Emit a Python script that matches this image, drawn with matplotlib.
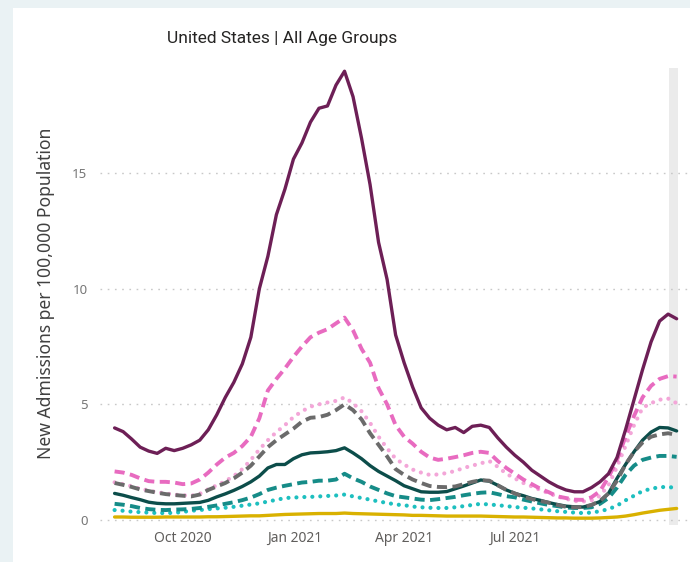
import pandas as pd
import matplotlib

matplotlib.use("Agg")
import matplotlib.pyplot as plt
from matplotlib.patches import Rectangle

# Dates (weekly) and values
dates = pd.date_range("2020-08-06", periods=67, freq="7D")

violet = [3.98, 3.82, 3.5, 3.15, 2.98, 2.88, 3.1, 3.0, 3.1, 3.25,
          3.45, 3.9, 4.55, 5.3, 5.95, 6.75, 7.9, 10.0, 11.4, 13.2,
          14.3, 15.6, 16.3, 17.2, 17.8, 17.9, 18.8, 19.4, 18.3, 16.5,
          14.5, 12.0, 10.4, 8.0, 6.8, 5.75, 4.85, 4.4, 4.1, 3.9,
          4.0, 3.78, 4.05, 4.1, 4.0, 3.55, 3.15, 2.8, 2.5, 2.15,
          1.9, 1.65, 1.45, 1.3, 1.22, 1.22, 1.4, 1.65, 2.0, 2.7,
          3.9, 5.2, 6.5, 7.7, 8.6, 8.9, 8.7]

rose_tirets = [2.1, 2.05, 1.95, 1.8, 1.68, 1.65, 1.65, 1.62, 1.55, 1.58,
               1.75, 2.05, 2.4, 2.7, 2.9, 3.2, 3.6, 4.4, 5.6, 6.1,
               6.55, 7.05, 7.5, 7.9, 8.1, 8.25, 8.5, 8.75, 8.2, 7.4,
               6.8, 5.7, 5.0, 4.1, 3.6, 3.3, 2.95, 2.7, 2.6, 2.65,
               2.72, 2.8, 2.9, 2.95, 2.9, 2.55, 2.25, 2.0, 1.75, 1.55,
               1.35, 1.2, 1.02, 0.95, 0.88, 0.87, 0.98, 1.25, 1.85, 2.6,
               3.6, 4.5, 5.3, 5.8, 6.1, 6.22, 6.2]

rose_points = [1.63, 1.55, 1.46, 1.35, 1.28, 1.2, 1.15, 1.1, 1.07, 1.05,
               1.13, 1.33, 1.5, 1.68, 1.9, 2.2, 2.6, 3.05, 3.45, 3.8,
               4.1, 4.45, 4.7, 4.9, 5.0, 5.08, 5.15, 5.3, 5.05, 4.7,
               4.2, 3.6, 3.1, 2.65, 2.4, 2.18, 2.05, 1.95, 1.97, 2.03,
               2.12, 2.25, 2.35, 2.45, 2.55, 2.3, 2.0, 1.8, 1.6, 1.45,
               1.3, 1.15, 1.02, 0.92, 0.82, 0.8, 0.84, 1.05, 1.5, 2.3,
               3.2, 4.1, 4.85, 5.05, 5.2, 5.25, 5.05]

gris_tirets = [1.6, 1.52, 1.43, 1.32, 1.25, 1.18, 1.12, 1.08, 1.05, 1.02,
               1.1, 1.3, 1.45, 1.6, 1.8, 2.05, 2.35, 2.75, 3.15, 3.45,
               3.7, 3.95, 4.25, 4.42, 4.45, 4.55, 4.75, 5.0, 4.75, 4.35,
               3.75, 3.25, 2.75, 2.2, 1.95, 1.75, 1.6, 1.47, 1.43, 1.42,
               1.45, 1.55, 1.65, 1.72, 1.7, 1.5, 1.3, 1.15, 1.0, 0.9,
               0.82, 0.75, 0.65, 0.57, 0.55, 0.56, 0.65, 0.82, 1.15, 1.7,
               2.4, 2.95, 3.35, 3.6, 3.7, 3.75, 3.68]

vert_fonce = [1.15, 1.07, 0.97, 0.88, 0.77, 0.72, 0.7, 0.7, 0.72, 0.74,
              0.76, 0.85, 1.0, 1.13, 1.28, 1.45, 1.65, 1.9, 2.25, 2.4,
              2.4, 2.65, 2.82, 2.9, 2.92, 2.95, 3.0, 3.12, 2.9, 2.65,
              2.35, 2.1, 1.9, 1.7, 1.48, 1.35, 1.22, 1.2, 1.2, 1.23,
              1.35, 1.47, 1.6, 1.73, 1.68, 1.5, 1.3, 1.15, 1.05, 0.93,
              0.85, 0.75, 0.67, 0.6, 0.57, 0.56, 0.65, 0.8, 1.15, 1.8,
              2.4, 2.95, 3.45, 3.8, 4.0, 3.98, 3.85]

sarcelle_tirets = [0.7, 0.66, 0.6, 0.52, 0.47, 0.44, 0.43, 0.45, 0.46, 0.48,
                   0.52, 0.57, 0.63, 0.7, 0.77, 0.86, 0.97, 1.12, 1.3, 1.4,
                   1.48, 1.55, 1.62, 1.65, 1.7, 1.7, 1.75, 2.0, 1.8, 1.65,
                   1.45, 1.3, 1.15, 1.03, 0.98, 0.93, 0.88, 0.86, 0.9, 0.95,
                   1.0, 1.07, 1.13, 1.18, 1.2, 1.12, 1.03, 0.98, 0.88, 0.8,
                   0.72, 0.65, 0.6, 0.54, 0.52, 0.52, 0.55, 0.7, 0.95, 1.4,
                   1.95, 2.35, 2.6, 2.7, 2.77, 2.77, 2.73]

cyan_points = [0.43, 0.4, 0.36, 0.34, 0.32, 0.3, 0.3, 0.31, 0.35, 0.4,
               0.43, 0.47, 0.5, 0.53, 0.57, 0.62, 0.67, 0.72, 0.8, 0.87,
               0.95, 0.97, 0.99, 1.0, 1.02, 1.04, 1.06, 1.1, 1.02, 0.95,
               0.88, 0.8, 0.74, 0.67, 0.64, 0.58, 0.55, 0.53, 0.52, 0.52,
               0.55, 0.6, 0.65, 0.7, 0.67, 0.64, 0.6, 0.56, 0.53, 0.5,
               0.46, 0.42, 0.38, 0.35, 0.32, 0.3, 0.32, 0.38, 0.47, 0.62,
               0.85, 1.05, 1.25, 1.35, 1.42, 1.43, 1.38]

jaune = [0.13, 0.13, 0.12, 0.12, 0.12, 0.12, 0.13, 0.13, 0.13, 0.13,
         0.13, 0.14, 0.14, 0.15, 0.16, 0.17, 0.18, 0.18, 0.2, 0.22,
         0.24, 0.25, 0.26, 0.27, 0.28, 0.28, 0.28, 0.3, 0.28, 0.27,
         0.26, 0.25, 0.24, 0.23, 0.22, 0.2, 0.2, 0.19, 0.18, 0.17,
         0.17, 0.17, 0.17, 0.17, 0.16, 0.15, 0.14, 0.13, 0.13, 0.12,
         0.11, 0.1, 0.09, 0.09, 0.08, 0.08, 0.08, 0.09, 0.11, 0.13,
         0.17, 0.23, 0.3, 0.36, 0.42, 0.46, 0.5]

ticks_x = pd.to_datetime(["2020-10-01", "2021-01-01", "2021-04-01", "2021-07-01"])
labels_x = ["Oct 2020", "Jan 2021", "Apr 2021", "Jul 2021"]
ticks_y = [0, 5, 10, 15]

# Figure : fond bleu pâle avec carte blanche
fig = plt.figure(figsize=(6.9, 5.62), dpi=100, facecolor="#EAF2F4")
fig.add_artist(Rectangle((13 / 690, 0), 1 - 13 / 690, (562 - 8) / 562,
                         transform=fig.transFigure, facecolor="white",
                         edgecolor="none", zorder=-10))

ax = fig.add_axes([100 / 690, (562 - 525) / 562, 590 / 690, 457 / 562])
ax.set_facecolor("none")

# Bande grise de la dernière semaine
ax.axvspan(pd.Timestamp("2021-11-05"), pd.Timestamp("2021-11-12"),
           color="#EBEBEB", zorder=0, lw=0)

tiret = dict(dashes=(2.6, 1.4))
point = dict(dashes=(0.01, 1.9), dash_capstyle="round")

ax.plot(dates, jaune, color="#D9B100", lw=2.4, solid_capstyle="round")
ax.plot(dates, cyan_points, color="#1DBFBF", lw=3, **point)
ax.plot(dates, sarcelle_tirets, color="#168C88", lw=2.8, **tiret)
ax.plot(dates, vert_fonce, color="#0C4D4A", lw=2.4, solid_capstyle="round")
ax.plot(dates, rose_points, color="#F3A6D8", lw=3, **point)
ax.plot(dates, gris_tirets, color="#6B6B6B", lw=2.8, **tiret)
ax.plot(dates, rose_tirets, color="#E86BC0", lw=2.8, **tiret)
ax.plot(dates, violet, color="#6D1F56", lw=2.4, solid_capstyle="round")

ax.set_xlim(pd.Timestamp("2020-07-25"), pd.Timestamp("2021-11-22"))
ax.set_ylim(-0.216, 19.54)

ax.set_xticks(ticks_x)
ax.set_xticklabels(labels_x, fontsize=10, color="#605E5C", family="Noto Sans")
ax.set_yticks(ticks_y)
ax.set_yticklabels([str(v) for v in ticks_y], fontsize=9.5, color="#777777",
                   family="Noto Sans")
ax.tick_params(axis="both", length=0)
ax.tick_params(axis="x", pad=4)
ax.tick_params(axis="y", pad=9)

ax.grid(axis="y", color="#C8C8C8", lw=1, dashes=(1.2, 4))
ax.grid(axis="x", visible=False)
ax.set_axisbelow(True)
for s in ax.spines.values():
    s.set_visible(False)

fig.text(282 / 690, (562 - 38) / 562, "United States | All Age Groups",
         ha="center", va="center", fontsize=12.5, color="#252423",
         family=["Roboto", "DejaVu Sans"])
fig.text(46 / 690, (562 - 293) / 562, "New Admissions per 100,000 Population",
         ha="center", va="center", rotation=90, fontsize=12.6, color="#404040",
         family="Noto Sans")

fig.savefig("out.png", dpi=100, facecolor=fig.get_facecolor())
